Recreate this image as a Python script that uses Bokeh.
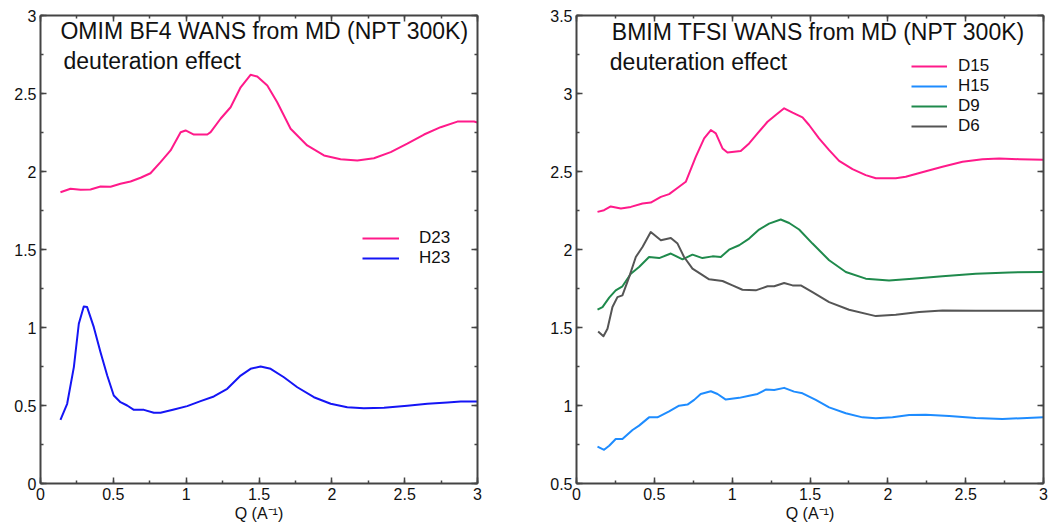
from bokeh.plotting import figure
from bokeh.layouts import row
from bokeh.models import (Range1d, LinearAxis, Label, Legend, LegendItem,
                          CustomJSTickFormatter, SingleIntervalTicker)
from bokeh.embed import file_html
from bokeh.resources import INLINE

# ---------------- data: left panel (OMIM BF4) ----------------
q_d23 = [0.137, 0.206, 0.275, 0.343, 0.412, 0.481, 0.549, 0.618, 0.687, 0.755,
         0.824, 0.893, 0.962, 0.996, 1.053, 1.145, 1.168, 1.236, 1.305, 1.374,
         1.442, 1.488, 1.557, 1.625, 1.717, 1.831, 1.946, 2.06, 2.175, 2.289,
         2.404, 2.518, 2.633, 2.747, 2.862, 2.976, 3.0]
s_d23 = [1.867, 1.889, 1.883, 1.885, 1.904, 1.902, 1.921, 1.936, 1.96, 1.989,
         2.06, 2.135, 2.252, 2.263, 2.237, 2.237, 2.252, 2.338, 2.412, 2.54,
         2.62, 2.609, 2.551, 2.444, 2.274, 2.167, 2.103, 2.079, 2.071, 2.085,
         2.124, 2.178, 2.237, 2.284, 2.32, 2.32, 2.314]

q_h23 = [0.137, 0.183, 0.229, 0.263, 0.297, 0.32, 0.366, 0.412, 0.458, 0.503,
         0.549, 0.595, 0.641, 0.71, 0.778, 0.824, 0.916, 1.007, 1.099, 1.19,
         1.282, 1.374, 1.442, 1.511, 1.58, 1.671, 1.763, 1.877, 1.992, 2.106,
         2.22, 2.358, 2.518, 2.656, 2.793, 2.885, 3.0]
s_h23 = [0.408, 0.511, 0.746, 1.024, 1.135, 1.131, 1.002, 0.842, 0.692, 0.564,
         0.521, 0.5, 0.472, 0.472, 0.453, 0.453, 0.474, 0.496, 0.528, 0.558,
         0.607, 0.692, 0.735, 0.75, 0.735, 0.681, 0.617, 0.553, 0.511, 0.489,
         0.483, 0.485, 0.498, 0.511, 0.519, 0.526, 0.526]

# ---------------- data: right panel (BMIM TFSI) ----------------
q_d15 = [0.135, 0.177, 0.22, 0.285, 0.349, 0.424, 0.477, 0.542, 0.595, 0.659,
         0.702, 0.766, 0.82, 0.863, 0.895, 0.938, 0.97, 1.055, 1.109, 1.163,
         1.227, 1.28, 1.334, 1.388, 1.452, 1.494, 1.558, 1.623, 1.687, 1.773,
         1.858, 1.923, 2.051, 2.115, 2.244, 2.351, 2.48, 2.608, 2.715, 2.843, 3.0]
s_d15 = [2.241, 2.252, 2.276, 2.263, 2.273, 2.295, 2.301, 2.337, 2.355, 2.402,
         2.434, 2.594, 2.712, 2.766, 2.744, 2.648, 2.622, 2.631, 2.68, 2.744,
         2.819, 2.862, 2.905, 2.877, 2.847, 2.798, 2.712, 2.637, 2.568, 2.515,
         2.477, 2.457, 2.457, 2.466, 2.502, 2.53, 2.562, 2.579, 2.584, 2.579, 2.575]

q_h15 = [0.135, 0.177, 0.21, 0.252, 0.295, 0.36, 0.402, 0.466, 0.52, 0.595,
         0.659, 0.713, 0.756, 0.798, 0.863, 0.906, 0.959, 1.045, 1.109, 1.163,
         1.216, 1.27, 1.334, 1.398, 1.452, 1.537, 1.623, 1.73, 1.837, 1.923,
         2.03, 2.137, 2.244, 2.394, 2.565, 2.736, 3.0]
s_h15 = [0.736, 0.716, 0.742, 0.785, 0.785, 0.843, 0.871, 0.924, 0.924, 0.962,
         0.999, 1.006, 1.036, 1.074, 1.091, 1.074, 1.038, 1.049, 1.063, 1.074,
         1.102, 1.1, 1.113, 1.089, 1.078, 1.036, 0.988, 0.95, 0.924, 0.918,
         0.924, 0.939, 0.941, 0.933, 0.92, 0.914, 0.924]

q_d9 = [0.135, 0.167, 0.21, 0.252, 0.295, 0.349, 0.402, 0.466, 0.531, 0.606,
        0.681, 0.745, 0.809, 0.874, 0.927, 0.98, 1.045, 1.109, 1.173, 1.237,
        1.312, 1.366, 1.43, 1.516, 1.623, 1.73, 1.858, 2.008, 2.158, 2.351,
        2.565, 2.779, 3.0]
s_d9 = [1.614, 1.631, 1.691, 1.738, 1.764, 1.845, 1.888, 1.952, 1.945, 1.974,
        1.937, 1.967, 1.945, 1.956, 1.952, 1.999, 2.027, 2.07, 2.128, 2.166,
        2.192, 2.17, 2.128, 2.038, 1.931, 1.856, 1.813, 1.802, 1.813, 1.828,
        1.845, 1.853, 1.855]

q_d6 = [0.139, 0.173, 0.199, 0.231, 0.263, 0.295, 0.338, 0.381, 0.424, 0.477,
        0.542, 0.606, 0.649, 0.691, 0.745, 0.852, 0.938, 1.002, 1.066, 1.152,
        1.227, 1.27, 1.334, 1.388, 1.441, 1.516, 1.623, 1.751, 1.923, 2.051,
        2.201, 2.351, 2.565, 2.779, 3.0]
s_d6 = [1.474, 1.444, 1.492, 1.631, 1.695, 1.706, 1.823, 1.952, 2.016, 2.112,
        2.059, 2.074, 2.038, 1.952, 1.877, 1.809, 1.798, 1.77, 1.742, 1.738,
        1.764, 1.764, 1.785, 1.77, 1.77, 1.727, 1.663, 1.614, 1.573, 1.582,
        1.599, 1.609, 1.607, 1.607, 1.607]

left_title = "OMIM BF4 WANS from MD (NPT 300K)"
right_title = "BMIM TFSI WANS from MD (NPT 300K)"
subtitle = "deuteration effect"
x_label = "Q (A\u207b\u00b9)"

FONT = "Liberation Sans"
AX = "#444444"

fmt_code = "return String(Math.round(tick*100)/100);"


def style_axis(ax, show_labels):
    ax.ticker = SingleIntervalTicker(interval=0.5, num_minor_ticks=2)
    ax.axis_line_color = AX
    ax.axis_line_width = 2
    ax.major_tick_in = 6
    ax.major_tick_out = 0
    ax.minor_tick_in = 3
    ax.minor_tick_out = 0
    ax.major_tick_line_color = AX
    ax.major_tick_line_width = 1.5
    ax.minor_tick_line_color = AX
    ax.minor_tick_line_width = 1.5
    if show_labels:
        ax.formatter = CustomJSTickFormatter(code=fmt_code)
        ax.major_label_text_font = FONT
        ax.major_label_text_font_size = "16px"
        ax.major_label_text_color = "#111111"
        ax.major_label_standoff = 4
    else:
        ax.formatter = CustomJSTickFormatter(code="return '';")
        ax.major_label_text_font_size = "0px"
        ax.major_label_standoff = 0


def make_fig(width, bl, br, y0, y1):
    p = figure(width=width, height=526, x_range=Range1d(0, 3), y_range=Range1d(y0, y1),
               output_backend="svg", toolbar_location=None,
               min_border_left=bl, min_border_right=br, min_border_top=15, min_border_bottom=43)
    p.grid.visible = False
    p.outline_line_color = None
    p.background_fill_color = "white"
    p.border_fill_color = "white"
    style_axis(p.xaxis[0], True)
    style_axis(p.yaxis[0], True)
    xa = p.xaxis[0]
    xa.axis_label = x_label
    xa.axis_label_text_font = FONT
    xa.axis_label_text_font_size = "16px"
    xa.axis_label_text_font_style = "normal"
    xa.axis_label_text_color = "#111111"
    xa.axis_label_standoff = 2
    ra = LinearAxis()
    style_axis(ra, False)
    p.add_layout(ra, "right")
    ta = LinearAxis()
    style_axis(ta, False)
    p.add_layout(ta, "above")
    return p


# ---------------- left figure ----------------
p1 = make_fig(540, 40, 63, 0, 3)
r_d23 = p1.line(q_d23, s_d23, line_color="#ff1a8a", line_width=2, line_join="round")
r_h23 = p1.line(q_h23, s_h23, line_color="#1515f5", line_width=2, line_join="round")
p1.add_layout(Label(x=0.137, y=2.82, text=left_title, text_font=FONT,
                    text_font_size="23px", text_color="#111111"))
p1.add_layout(Label(x=0.158, y=2.628, text=subtitle, text_font=FONT,
                    text_font_size="23px", text_color="#111111"))
leg1 = Legend(items=[LegendItem(label="D23", renderers=[r_d23]),
                     LegendItem(label="H23", renderers=[r_h23])],
              location=(322, 215), padding=0, margin=0, border_line_color=None,
              background_fill_alpha=0, glyph_width=37, glyph_height=20, label_height=20,
              label_standoff=20, spacing=0, label_text_font=FONT,
              label_text_font_size="17px", label_text_color="#111111")
p1.add_layout(leg1)

# ---------------- right figure ----------------
p2 = make_fig(510, 36, 7, 0.5, 3.5)
r_d15 = p2.line(q_d15, s_d15, line_color="#ff1a8a", line_width=2, line_join="round")
r_h15 = p2.line(q_h15, s_h15, line_color="#1e8cff", line_width=2, line_join="round")
r_d9 = p2.line(q_d9, s_d9, line_color="#1f8a4c", line_width=2, line_join="round")
r_d6 = p2.line(q_d6, s_d6, line_color="#555555", line_width=2, line_join="round")
p2.add_layout(Label(x=0.227, y=3.312, text=right_title, text_font=FONT,
                    text_font_size="23px", text_color="#111111"))
p2.add_layout(Label(x=0.214, y=3.119, text=subtitle, text_font=FONT,
                    text_font_size="23px", text_color="#111111"))
leg2 = Legend(items=[LegendItem(label="D15", renderers=[r_d15]),
                     LegendItem(label="H15", renderers=[r_h15]),
                     LegendItem(label="D9", renderers=[r_d9]),
                     LegendItem(label="D6", renderers=[r_d6])],
              location=(335, 347), padding=0, margin=0, border_line_color=None,
              background_fill_alpha=0, glyph_width=36, glyph_height=18, label_height=18,
              label_standoff=11, spacing=0, label_text_font=FONT,
              label_text_font_size="17px", label_text_color="#111111")
p2.add_layout(leg2)

layout = row(p1, p2)
open("out.html", "w").write(file_html(layout, INLINE))
